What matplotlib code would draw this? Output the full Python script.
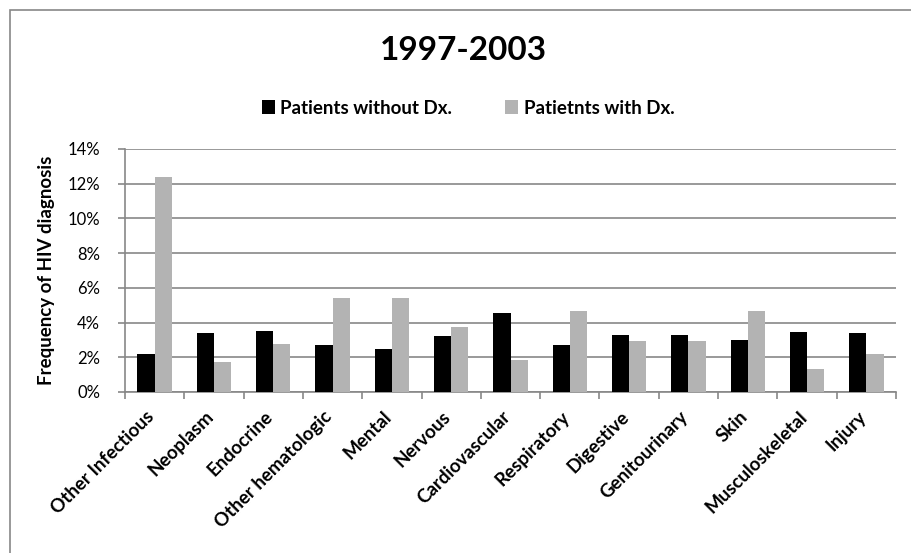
import numpy as np
import matplotlib
matplotlib.use("Agg")
import matplotlib.pyplot as plt
from matplotlib.patches import Rectangle
from matplotlib.ticker import FuncFormatter
from matplotlib.transforms import ScaledTranslation

plt.rcParams['font.family'] = ['Lato', 'DejaVu Sans']

# Data (percent)
categories = ["Other Infectious", "Neoplasm", "Endocrine", "Other hematologic",
              "Mental", "Nervous", "Cardiovascular", "Respiratory", "Digestive",
              "Genitourinary", "Skin", "Musculoskeletal", "Injury"]
without_dx = [2.2, 3.4, 3.5, 2.7, 2.5, 3.2, 4.55, 2.7, 3.3, 3.3, 3.0, 3.45, 3.4]
with_dx = [12.4, 1.75, 2.75, 5.4, 5.4, 3.75, 1.85, 4.65, 2.95, 2.95, 4.65, 1.3, 2.2]
yticks = [0, 2, 4, 6, 8, 10, 12, 14]

grid_col = "#878787"

fig = plt.figure(figsize=(9.11, 5.53), dpi=100)
ax = fig.add_axes([125 / 911, 1 - 392 / 553, (896 - 125) / 911, (392 - 149) / 553])

# outer chart border (only top and left are visible in the crop)
fig.patches.append(Rectangle((10 / 911, -0.1), 1.2, 1 - 10 / 553 + 0.1,
                             transform=fig.transFigure, fill=False,
                             edgecolor=grid_col, linewidth=1.2))

x = np.arange(len(categories))
w = 0.29
ax.bar(x - w / 2, without_dx, w, color="black", label="Patients without Dx.", zorder=3)
ax.bar(x + w / 2, with_dx, w, color="#b3b3b3", label="Patietnts with Dx.", zorder=3)

ax.set_xlim(-0.5, len(categories) - 0.5)
ax.set_ylim(0, 14)
ax.set_yticks(yticks)
ax.yaxis.set_major_formatter(FuncFormatter(lambda v, p: f"{v:.0f}%"))
ax.grid(axis="y", color=grid_col, linewidth=1.2, zorder=0)

# category labels at centres, tick marks at boundaries
ax.set_xticks(np.arange(len(categories) + 1) - 0.5)
ax.set_xticklabels([])
ax.set_xticks(x, minor=True)
ax.set_xticklabels(categories, minor=True, rotation=45, ha="right",
                   rotation_mode="anchor", fontsize=13.5, fontweight="bold")
ax.tick_params(axis="x", which="minor", length=0, pad=11.5)
ax.tick_params(axis="x", which="major", length=5, color=grid_col, width=1.2)
ax.tick_params(axis="y", length=5, color=grid_col, width=1.2, labelsize=12, pad=13)
shift = ScaledTranslation(-0.09, 0, fig.dpi_scale_trans)
for lab in ax.get_xticklabels(minor=True):
    lab.set_transform(lab.get_transform() + shift)

for s in ["top", "right"]:
    ax.spines[s].set_visible(False)
for s in ["left", "bottom"]:
    ax.spines[s].set_color(grid_col)
    ax.spines[s].set_linewidth(1.2)

ax.set_ylabel("Frequency of HIV diagnosis", fontsize=13.5, fontweight="bold", labelpad=9)

fig.text(463 / 911, 1 - 50 / 553, "1997-2003", ha="center", va="center",
         fontsize=24, fontweight="bold")
fig.legend(loc="center", bbox_to_anchor=(468 / 911, 1 - 108 / 553), ncol=2,
           frameon=False, prop={"weight": "bold", "size": 13.5},
           handlelength=0.7, handleheight=0.7, handletextpad=0.3, columnspacing=2.8)

fig.savefig("out.png", dpi=100)
